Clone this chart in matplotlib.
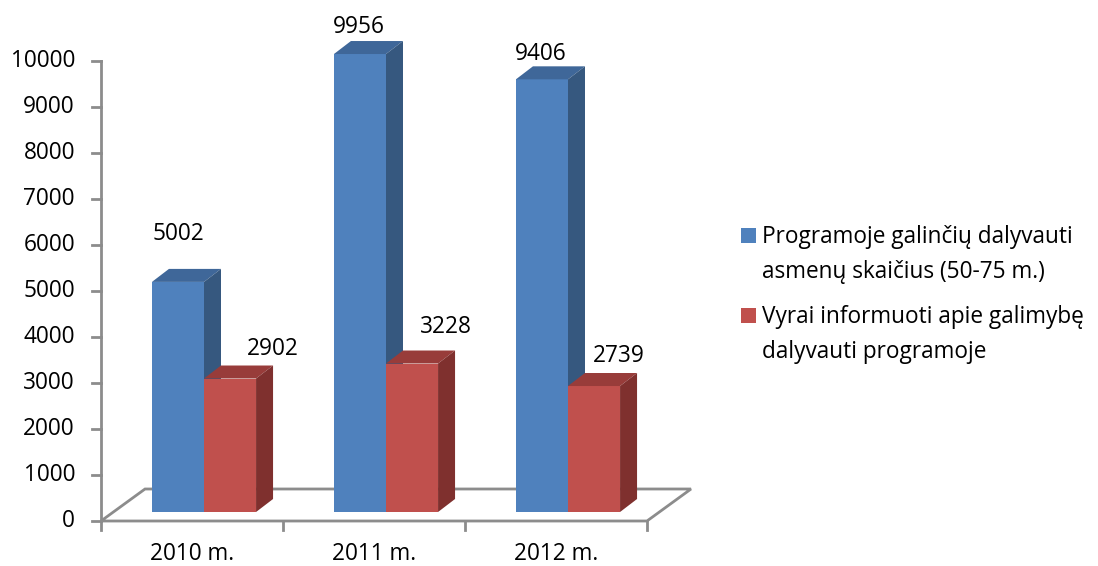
import matplotlib.pyplot as plt
from matplotlib.patches import Polygon, Rectangle

years = ["2010 m.", "2011 m.", "2012 m."]
eligible = [5002, 9956, 9406]
informed = [2902, 3228, 2739]
series_names = [["Programoje galinčių dalyvauti", "asmenų skaičius (50-75 m.)"],
                ["Vyrai informuoti apie galimybę", "dalyvauti programoje"]]
yticks = list(range(0, 10001, 1000))

# label nudges in pixels (dx, dy) from the front-top centre of each bar
eligible_nudge = [(0, 48), (-1, 27), (-1, 25)]
informed_nudge = [(43, 30), (34, 37), (25, 30)]

plt.rcParams['font.family'] = ['Open Sans', 'DejaVu Sans']
FS = 16.3
GRAY = '#8c8c8c'

W, H = 1098, 566
fig = plt.figure(figsize=(W / 100, H / 100), dpi=100)
# axes: front plane, category 0..3 -> px 101..647, value 0..10000 -> px 521..61
ax = fig.add_axes([101 / W, (H - 521) / H, 546 / W, 460 / H])
ax.set_xlim(0, 3)
ax.set_ylim(0, 10000)
ax.axis('off')

px_x = 3 / 546      # category units per pixel
px_y = 10000 / 460  # value units per pixel

# depth geometry
floor_dx, floor_dy = 44 * px_x, 32 * px_y
off_dx, off_dy = 12 * px_x, 9 * px_y      # bar front face depth offset
dep_dx, dep_dy = 17 * px_x, 13 * px_y     # bar depth

def poly(pts, fc, ec='none', lw=0, z=2):
    ax.add_patch(Polygon(pts, closed=True, facecolor=fc, edgecolor=ec,
                         lw=lw, clip_on=False, zorder=z))

# floor
poly([(0, 0), (3, 0), (3 + floor_dx, floor_dy), (floor_dx, floor_dy)],
     'white', GRAY, 2, z=1)

# y axis
ax.plot([0, 0], [0, 10000], color=GRAY, lw=2, clip_on=False, zorder=1)
for t in yticks:
    ax.plot([-9 * px_x, 0], [t, t], color=GRAY, lw=2, clip_on=False, zorder=1)
    ax.text(-26 * px_x, t, str(t), ha='right', va='center', fontsize=FS)

# x ticks and labels
for i in range(4):
    ax.plot([i, i], [0, -9 * px_y], color=GRAY, lw=2, clip_on=False, zorder=1)
for i, lab in enumerate(years):
    ax.text(i + 0.5, -33 * px_y, lab, ha='center', va='center', fontsize=FS)

bw = 0.286
colors = [('#4f81bd', '#3f6799', '#36587f'), ('#c0504d', '#983c3a', '#7f302e')]

def bar3d(x0, h, cols):
    front, top, side = cols
    x = x0 + off_dx
    y = off_dy
    poly([(x, y), (x + bw, y), (x + bw, y + h), (x, y + h)], front)
    poly([(x, y + h), (x + bw, y + h), (x + bw + dep_dx, y + h + dep_dy),
          (x + dep_dx, y + h + dep_dy)], top)
    poly([(x + bw, y), (x + bw + dep_dx, y + dep_dy),
          (x + bw + dep_dx, y + h + dep_dy), (x + bw, y + h)], side)
    return x + bw / 2, y + h

for i in range(len(years)):
    c = i + 0.5
    for k, (vals, nudge) in enumerate([(eligible, eligible_nudge), (informed, informed_nudge)]):
        x0 = c - bw if k == 0 else c
        tx, ty = bar3d(x0, vals[i], colors[k])
        ax.annotate(str(vals[i]), (tx, ty), xytext=nudge[i], textcoords='offset pixels',
                    ha='center', va='center', fontsize=FS, annotation_clip=False, zorder=5)

# legend (square bottom sits on the first baseline)
baselines = [243, 323]
for k, lines in enumerate(series_names):
    b = baselines[k]
    fig.patches.append(Rectangle((741 / W, (H - b) / H), 15 / W, 15 / H,
                                 transform=fig.transFigure, facecolor=colors[k][0],
                                 edgecolor='none'))
    for j, line in enumerate(lines):
        fig.text(762 / W, (H - b - 35 * j) / H, line, ha='left', va='baseline',
                 fontsize=FS)

fig.savefig('out.png', dpi=100)
